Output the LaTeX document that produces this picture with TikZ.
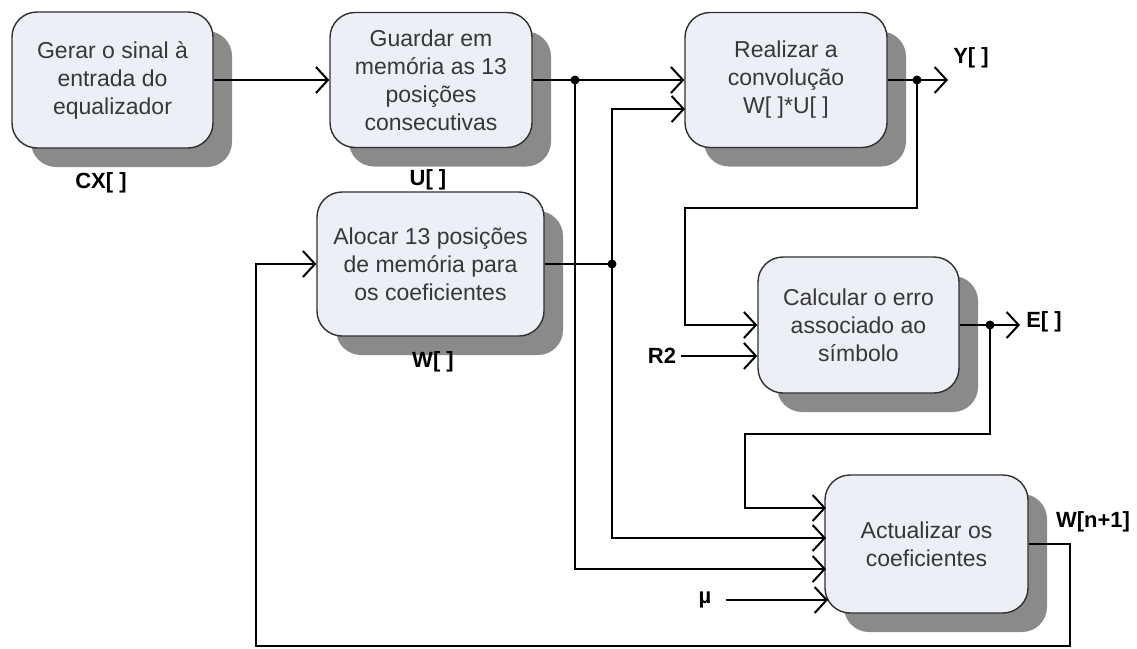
\documentclass[tikz,border=0pt]{standalone}
\usepackage{fontspec}
\setmainfont{Liberation Sans}
\usetikzlibrary{arrows.meta,shadows}
\definecolor{boxfill}{RGB}{236,240,246}
\definecolor{boxline}{RGB}{48,48,48}
\definecolor{shadowgray}{RGB}{138,138,138}
\definecolor{textgray}{RGB}{55,55,55}
\begin{document}
\begin{tikzpicture}[x=1pt,y=-1pt,
  stepbox/.style={draw=boxline, line width=1.4pt, fill=boxfill, rounded corners=25pt,
    drop shadow={shadow xshift=19pt, shadow yshift=-19pt, fill=shadowgray, opacity=1},
    align=center, text=textgray, font=\fontsize{23}{28}\selectfont, inner sep=0pt},
  sig/.style={font=\bfseries\fontsize{22}{26}\selectfont, inner sep=0pt},
  wire/.style={line width=2pt, draw=black},
  arr/.style={wire, -{Straight Barb[length=12pt,width=26pt]}},
  junction/.style={fill=black}
]
\useasboundingbox (0,0) rectangle (1137,648);

% processing blocks
\node[stepbox, minimum width=201pt, minimum height=136pt] (b1) at (112.5,80)
  {Gerar o sinal à\\entrada do\\equalizador};
\node[stepbox, minimum width=202pt, minimum height=135pt] (b2) at (431,80)
  {Guardar em\\memória as 13\\posições\\consecutivas};
\node[stepbox, minimum width=202pt, minimum height=135pt] (b3) at (786,80)
  {Realizar a\\convolução\\W[ ]*U[ ]};
\node[stepbox, minimum width=227pt, minimum height=144pt] (b4) at (430.5,264)
  {Alocar 13 posições\\de memória para\\os coeficientes};
\node[stepbox, minimum width=201pt, minimum height=136pt] (b5) at (858.5,325)
  {Calcular o erro\\associado ao\\símbolo};
\node[stepbox, minimum width=203pt, minimum height=138pt] (b6) at (926.5,544)
  {Actualizar os\\coeficientes};

% signal labels
\node[sig] (cx) at (101,183) {CX[ ]};
\node[sig] (u)  at (428,180) {U[ ]};
\node[sig] (w)  at (433,362) {W[ ]};
\node[sig] (y)  at (971,58)  {Y[ ]};
\node[sig] (e)  at (1044,322) {E[ ]};
\node[sig] (r2) at (662,356) {R2};
\node[sig] (mu) at (705,600) {µ};
\node[sig] (wn) at (1093,522) {W[n+1]};

% junctions and bends
\coordinate (j1) at (575,80);
\coordinate (j2) at (612,264);
\coordinate (j3) at (917,80);
\coordinate (j4) at (990,325);
\coordinate (ytip) at (948,80);
\coordinate (etip) at (1020,325);
\coordinate (in3b) at (685,109);
\coordinate (k1) at (685,208);
\coordinate (k2) at (745,434);
\coordinate (in6a) at (826,508);
\coordinate (in6b) at (826,538);
\coordinate (in6c) at (826,569);
\coordinate (in6d) at (828,600);
\coordinate (k3) at (1070,646);
\coordinate (k4) at (256,646);

% connectors
\draw[arr] (b1.east) -- (b2.west);
\draw[arr] (b2.east) -- (b3.west);
\draw[wire] (b4.east) -- (j2);
\draw[arr] (j2) |- (in3b);
\draw[arr] (b3.east) -- (ytip);
\draw[arr] (j3) |- (k1) |- (b5.west);
\draw[arr, shorten <=5pt] (r2.east) -- (r2.east -| b5.west);
\draw[arr] (b5.east) -- (etip);
\draw[arr] (j4) |- (k2) |- (in6a);
\draw[arr] (j2) |- (in6b);
\draw[arr] (j1) |- (in6c);
\draw[arr, shorten <=14pt] (mu.east) -- (mu.east -| in6d);
\draw[arr] (b6.east) -| (k3) -- (k4) |- (b4.west);

% junction dots
\foreach \j in {j1,j2,j3,j4} \fill[junction] (\j) circle (4.5pt);
\end{tikzpicture}
\end{document}
